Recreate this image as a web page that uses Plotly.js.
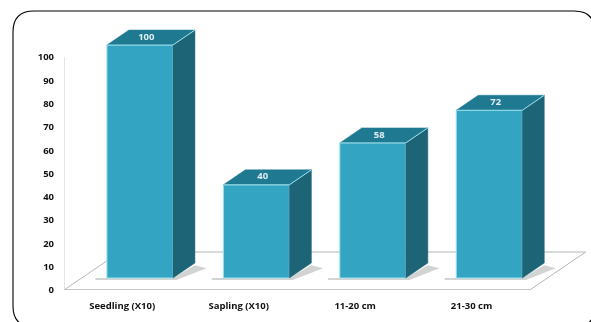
<!DOCTYPE html>
<html>
<head>
<meta charset="utf-8">
<script src="https://cdn.plot.ly/plotly-3.0.1.min.js"></script>
<style>
html,body{margin:0;padding:0;background:#fff;overflow:hidden}
#chart{width:591px;height:322px;filter:blur(0.6px)}
</style>
</head>
<body>
<div id="chart"></div>
<script>
const categories = ["Seedling (X10)", "Sapling (X10)", "11-20 cm", "21-30 cm"];
const values = [100, 40, 58, 72];
const yTicks = [0,10,20,30,40,50,60,70,80,90,100];

const positions = categories.map((_, i) => i);
const barOffset = 0.152, barWidth = 0.567, barBase = 5.15;
const depthX = 0.189, depthY = 6.44;
const floorDX = 0.48, floorDY = 16.3;
const FRONT = "#33A4C2", SIDE = "#1D6477", TOP = "#1F7A91", EDGE = "#9FE3F2";

const W = 591, H = 322, L = 64, R = 3, T = 20, B = 32;
const px = v => (v - L) / (W - L - R);
const py = v => 1 - (v - T) / (H - T - B);

const left = i => i + barOffset - barWidth / 2;
const right = i => i + barOffset + barWidth / 2;

const traces = [];
traces.push({
  type: "bar", x: positions.map(i => i + barOffset), y: values, base: values.map(() => barBase),
  width: barWidth, marker: {color: FRONT, line: {color: EDGE, width: 1}}, hoverinfo: "skip"
});
positions.forEach(i => {
  const v = values[i] + barBase;
  traces.push({
    type: "scatter", mode: "lines", fill: "toself", fillcolor: SIDE, line: {color: SIDE, width: 0.5},
    x: [right(i), right(i) + depthX, right(i) + depthX, right(i), right(i)],
    y: [barBase, barBase + depthY, v + depthY, v, barBase], hoverinfo: "skip"
  });
  traces.push({
    type: "scatter", mode: "lines", fill: "toself", fillcolor: TOP, line: {color: TOP, width: 0.5},
    x: [left(i), left(i) + depthX, right(i) + depthX, right(i), left(i)],
    y: [v, v + depthY, v + depthY, v, v], hoverinfo: "skip"
  });
  traces.push({
    type: "scatter", mode: "lines", line: {color: EDGE, width: 1},
    x: [left(i), right(i), right(i) + depthX],
    y: [v, v, v + depthY], hoverinfo: "skip"
  });
});
traces.push({
  type: "scatter", mode: "text", x: positions.map(i => i + barOffset + 0.055),
  y: values.map(v => v + barBase + depthY / 2 + 0.1), text: values.map(String),
  textposition: "middle center", cliponaxis: false,
  textfont: {family: "Open Sans", size: 9.5, color: "#dfeef2", weight: 700}, hoverinfo: "skip"
});

const shapes = [
  {type: "path", layer: "below", xref: "x", yref: "y", fillcolor: "#ffffff", line: {color: "#b4b8b8", width: 1},
   path: `M -0.5 0 L 3.5 0 L ${3.5 + floorDX} ${floorDY} L ${-0.5 + floorDX} ${floorDY} Z`},
  {type: "line", layer: "below", xref: "x", yref: "y", x0: -0.5, x1: 3.5, y0: -0.2, y1: -0.2, line: {color: "#bcbfbf", width: 2.5}},
  {type: "line", layer: "below", xref: "x", yref: "y", x0: -0.5, x1: -0.5, y0: 0, y1: 100, line: {color: "#c9cccc", width: 1}}
];
positions.forEach(i => {
  shapes.push({type: "path", layer: "below", xref: "x", yref: "y", fillcolor: "#d2d4d4", line: {width: 0},
    path: `M ${left(i) - 0.1} ${barBase - 0.9} L ${right(i) + 0.03} ${barBase - 0.9} L ${right(i) + depthX + 0.1} ${barBase + depthY - 2.2} L ${right(i) + depthX} ${barBase + depthY - 1} L ${right(i)} ${barBase} L ${left(i) - 0.1} ${barBase} Z`});
});
const bx0 = 13, by0 = 11, bx1 = 595, by1 = 327, r = 21;
const pt = (a, b) => `${px(a)} ${py(b)}`;
shapes.push({type: "path", layer: "above", xref: "paper", yref: "paper", line: {color: "#000000", width: 1.1},
  path: `M ${pt(bx0 + r, by0)} L ${pt(bx1 - r, by0)} Q ${pt(bx1, by0)} ${pt(bx1, by0 + r)} L ${pt(bx1, by1 - r)} Q ${pt(bx1, by1)} ${pt(bx1 - r, by1)} L ${pt(bx0 + r, by1)} Q ${pt(bx0, by1)} ${pt(bx0, by1 - r)} L ${pt(bx0, by0 + r)} Q ${pt(bx0, by0)} ${pt(bx0 + r, by0)} Z`});

const layout = {
  width: W, height: H, margin: {l: L, r: R, t: T, b: B, pad: 0},
  paper_bgcolor: "#ffffff", plot_bgcolor: "rgba(0,0,0,0)", showlegend: false, barmode: "overlay",
  xaxis: {range: [-0.5, 4.0], tickmode: "array", tickvals: positions, ticktext: categories,
    showgrid: false, zeroline: false, showline: false, ticks: "", ticklabelstandoff: 8,
    tickfont: {family: "Open Sans", size: 9.5, color: "#111111", weight: 700}},
  yaxis: {range: [0, 115.9], tickmode: "array", tickvals: yTicks, ticktext: yTicks.map(String),
    showgrid: false, zeroline: false, showline: false, ticks: "", ticklabelstandoff: 9,
    tickfont: {family: "Open Sans", size: 9.5, color: "#111111", weight: 700}},
  shapes: shapes
};
Plotly.newPlot("chart", traces, layout, {displayModeBar: false, staticPlot: true});
</script>
</body>
</html>
